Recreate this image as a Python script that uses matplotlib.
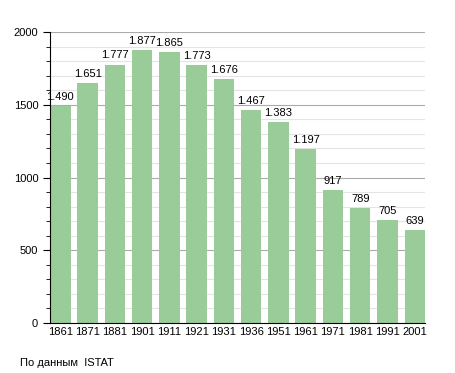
import matplotlib.pyplot as plt
import numpy as np
from matplotlib.ticker import MultipleLocator

plt.rcParams["font.family"] = ["Liberation Sans", "DejaVu Sans"]

# Dati della popolazione
anni = ["1861", "1871", "1881", "1901", "1911", "1921", "1931",
        "1936", "1951", "1961", "1971", "1981", "1991", "2001"]
abitanti = [1490, 1651, 1777, 1877, 1865, 1773, 1676,
            1467, 1383, 1197, 917, 789, 705, 639]
etichette = ["1.490", "1.651", "1.777", "1.877", "1.865", "1.773", "1.676",
             "1.467", "1.383", "1.197", "917", "789", "705", "639"]

fig = plt.figure(figsize=(4.55, 3.73), dpi=100)
ax = fig.add_axes([0.110, 0.134, 0.824, 0.780])

x = np.arange(len(anni))
w = 0.75
ax.bar(x, abitanti, width=w, color="#99cc99", zorder=2)

for xi, v, t in zip(x, abitanti, etichette):
    ax.text(xi, v + 28, t, ha="center", va="bottom", fontsize=8)

ax.set_xlim(-w / 2, len(anni) - 1 + w / 2)
ax.set_ylim(0, 2000)
ax.yaxis.set_major_locator(MultipleLocator(500))
ax.yaxis.set_minor_locator(MultipleLocator(100))
ax.grid(axis="y", which="major", color="#aaaaaa", linewidth=0.8, zorder=0)
ax.grid(axis="y", which="minor", color="#e4e4e4", linewidth=0.8, zorder=0)

ax.set_xticks(x)
ax.set_xticklabels(anni, fontsize=8)
ax.tick_params(axis="x", length=0, pad=3)
ax.tick_params(axis="y", which="major", length=5, labelsize=8)
ax.tick_params(axis="y", which="minor", length=3)

ax.spines["top"].set_visible(False)
ax.spines["right"].set_visible(False)

fig.text(0.044, 0.02, "По данным  ISTAT", fontsize=8)

fig.savefig("out.png", dpi=100)
